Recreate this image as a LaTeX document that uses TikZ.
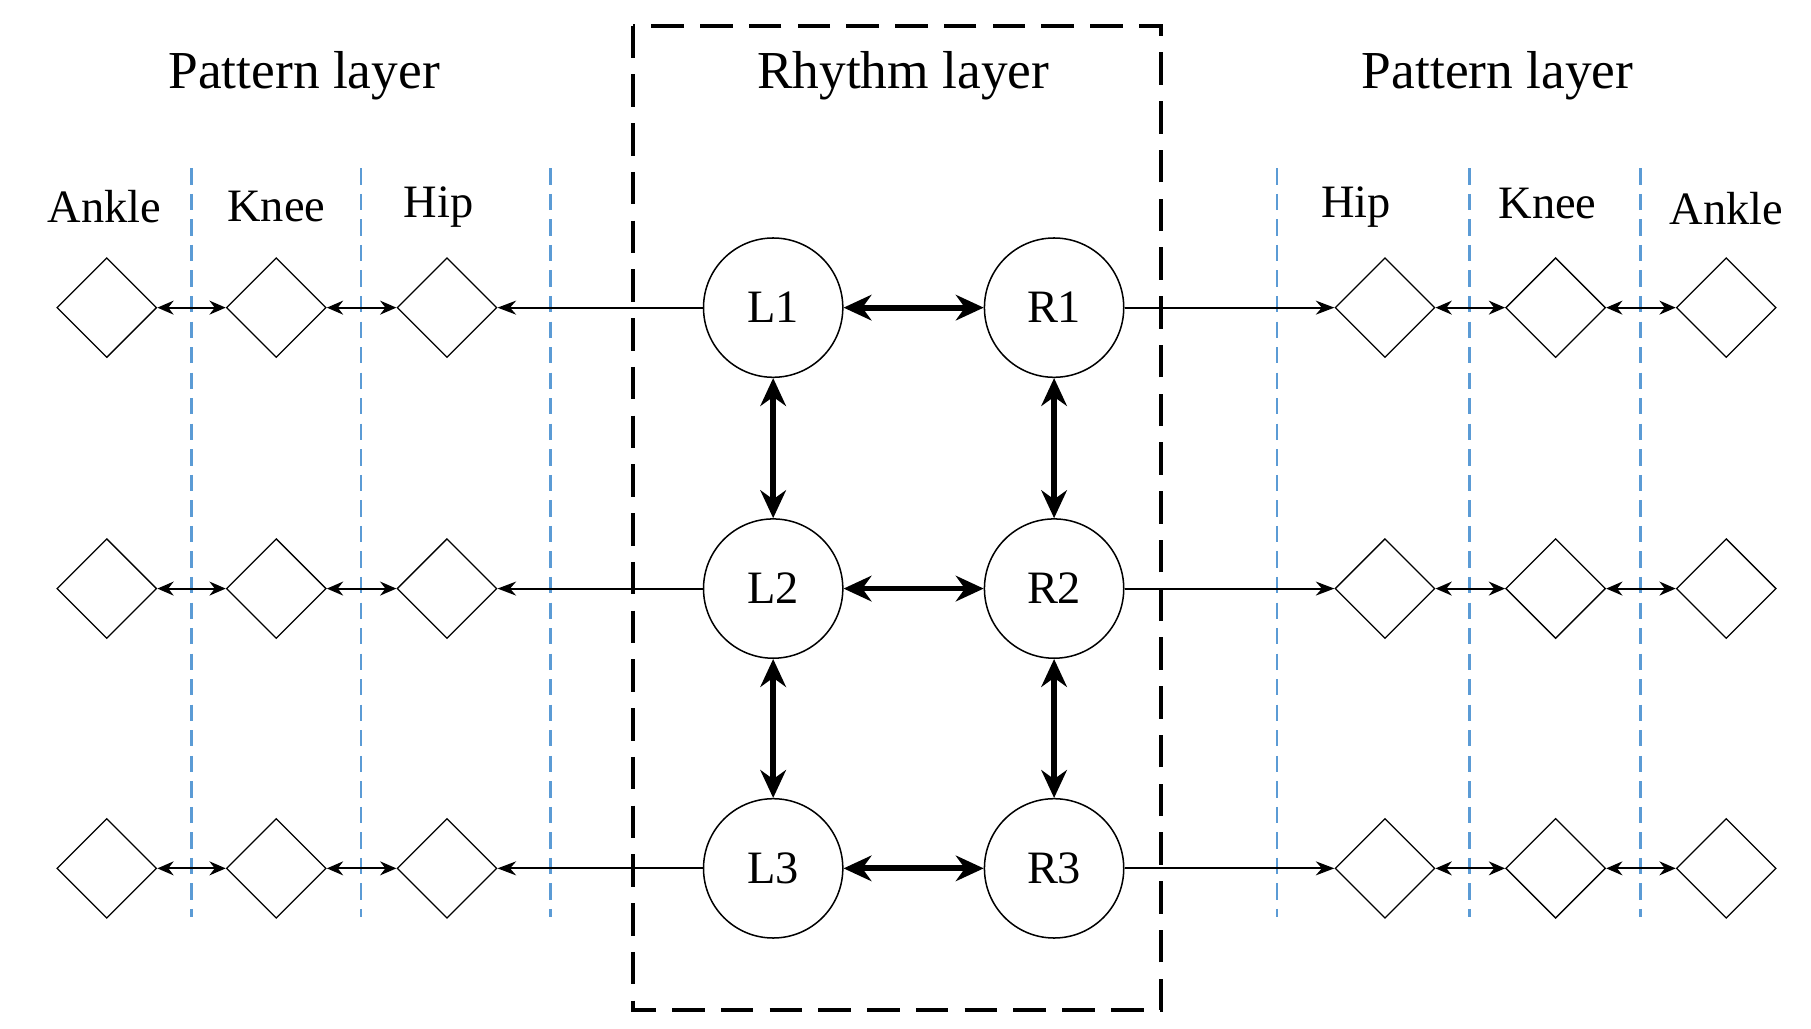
\documentclass[tikz,border=0pt]{standalone}
\usepackage{fontspec}
\setmainfont{Liberation Serif}
\usetikzlibrary{shapes.geometric,arrows.meta}
\begin{document}
\begin{tikzpicture}[x=1pt,y=-1pt,
  osc/.style={circle,draw,line width=1.3pt,minimum size=120pt,inner sep=0pt,font=\fontsize{40}{44}\selectfont},
  dia/.style={diamond,draw,line width=1.1pt,minimum size=86pt,inner sep=0pt},
  thin/.style={line width=1.8pt,-{Stealth[length=16pt,width=12pt]}},
  dthin/.style={line width=1.8pt,{Stealth[length=14pt,width=12pt]}-{Stealth[length=14pt,width=12pt]}},
  thick/.style={line width=5pt,{Stealth[length=24pt,width=22pt]}-{Stealth[length=24pt,width=22pt]}},
  blue/.style={dashed,draw={rgb,255:red,91;green,155;blue,213},line width=2.2pt,dash pattern=on 14pt off 8pt},
  lab/.style={font=\fontsize{46}{50}\selectfont},
  jl/.style={font=\fontsize{40}{44}\selectfont}]
\useasboundingbox (0,0) rectangle (1560,886);
\draw[line width=3.5pt,dash pattern=on 28pt off 14pt] (545,22) rectangle (1000,870);
\node[lab] (t1) at (262,65) {Pattern layer};
\node[lab] (t2) at (778,65) {Rhythm layer};
\node[lab] (t3) at (1290,65) {Pattern layer};
\node[jl] (a1) at (90,178) {Ankle};
\node[jl] (k1) at (238,178) {Knee};
\node[jl] (h1) at (378,178) {Hip};
\node[jl] (h2) at (1168,178) {Hip};
\node[jl] (k2) at (1333,175) {Knee};
\node[jl] (a2) at (1487,180) {Ankle};
\foreach \x in {165,311,474,1100,1266,1413} \draw[blue] (\x,145) -- (\x,790);
\foreach \r/\y in {1/265,2/507,3/748}{
  \node[osc] (L\r) at (666,\y) {L\r};
  \node[osc] (R\r) at (908,\y) {R\r};
  \node[dia] (la\r) at (92,\y) {};
  \node[dia] (lk\r) at (238,\y) {};
  \node[dia] (lh\r) at (385,\y) {};
  \node[dia] (rh\r) at (1193,\y) {};
  \node[dia] (rk\r) at (1340,\y) {};
  \node[dia] (ra\r) at (1487,\y) {};
  \draw[thick] (L\r) -- (R\r);
  \draw[thin] (L\r) -- (lh\r);
  \draw[thin] (R\r) -- (rh\r);
  \draw[dthin] (la\r) -- (lk\r);
  \draw[dthin] (lk\r) -- (lh\r);
  \draw[dthin] (rh\r) -- (rk\r);
  \draw[dthin] (rk\r) -- (ra\r);
}
\draw[thick] (L1) -- (L2); \draw[thick] (L2) -- (L3);
\draw[thick] (R1) -- (R2); \draw[thick] (R2) -- (R3);
\end{tikzpicture}
\end{document}
